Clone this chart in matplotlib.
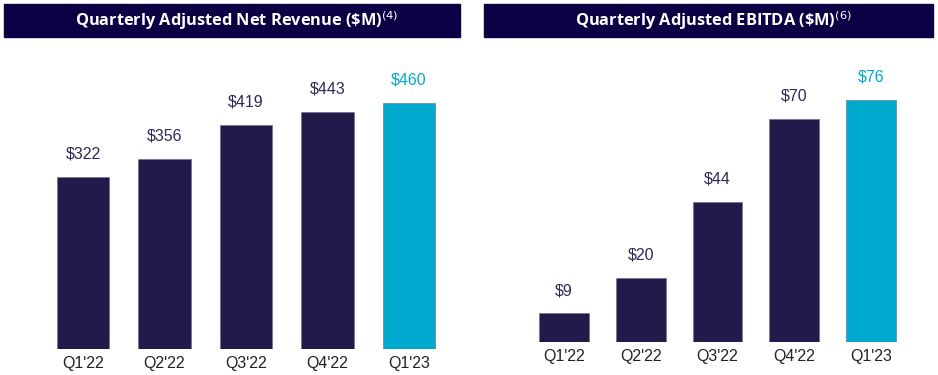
import matplotlib.pyplot as plt
from matplotlib.patches import Rectangle

quarters = ["Q1'22", "Q2'22", "Q3'22", "Q4'22", "Q1'23"]
revenue = [322, 356, 419, 443, 460]
ebitda = [9, 20, 44, 70, 76]

navy = "#221a4a"
cyan = "#00aacf"
header = "#0c0044"
colors = [navy, navy, navy, navy, cyan]
label_colors = ["#2b2a55", "#2b2a55", "#2b2a55", "#2b2a55", cyan]

W, H = 938, 375
fig = plt.figure(figsize=(W / 100, H / 100), dpi=100)


def px_axes(x0, x1, ybottom, height):
    # pixel coords measured from the top-left corner
    return fig.add_axes([x0 / W, (H - ybottom) / H, (x1 - x0) / W, height / H])


def draw_header(x0, x1, title):
    fig.patches.append(Rectangle((x0 / W, (H - 37) / H), (x1 - x0) / W, 33 / H,
                                 transform=fig.transFigure, color=header, zorder=0))
    fig.text((x0 + x1) / 2 / W + 0.005, (H - 21) / H, title, color="white", ha="center",
             va="center", fontsize=11.8, fontweight="bold", family="Open Sans")


def draw_bars(ax, values, top, width):
    x = range(len(values))
    bars = ax.bar(x, values, width=width, color=colors, edgecolor="#6c6890", linewidth=0.4)
    for b, v, c in zip(bars, values, label_colors):
        ax.annotate("$" + str(v), (b.get_x() + b.get_width() / 2, v), xytext=(0, 11),
                    textcoords="offset points", ha="center", va="bottom",
                    fontsize=11.5, color=c, family="Liberation Sans")
    ax.set_xlim(-0.5, len(values) - 0.5)
    ax.set_ylim(0, top)
    ax.set_xticks(list(x))
    ax.set_xticklabels(quarters, fontsize=11.5, family="Liberation Sans", color="#222222")
    ax.tick_params(axis="x", length=0, pad=5)
    ax.set_yticks([])
    for s in ax.spines.values():
        s.set_visible(False)


draw_header(4, 460, r"Quarterly Adjusted Net Revenue (\$M)$^{(4)}$")
draw_header(484, 933, r"Quarterly Adjusted EBITDA (\$M)$^{(6)}$")

ax1 = px_axes(42.25, 449.75, 349, 500 * 0.535)
draw_bars(ax1, revenue, 500, 0.64)

ax2 = px_axes(525.6, 909.4, 342, 80 * 3.19)
draw_bars(ax2, ebitda, 80, 0.65)

fig.savefig("out.png", dpi=100)
